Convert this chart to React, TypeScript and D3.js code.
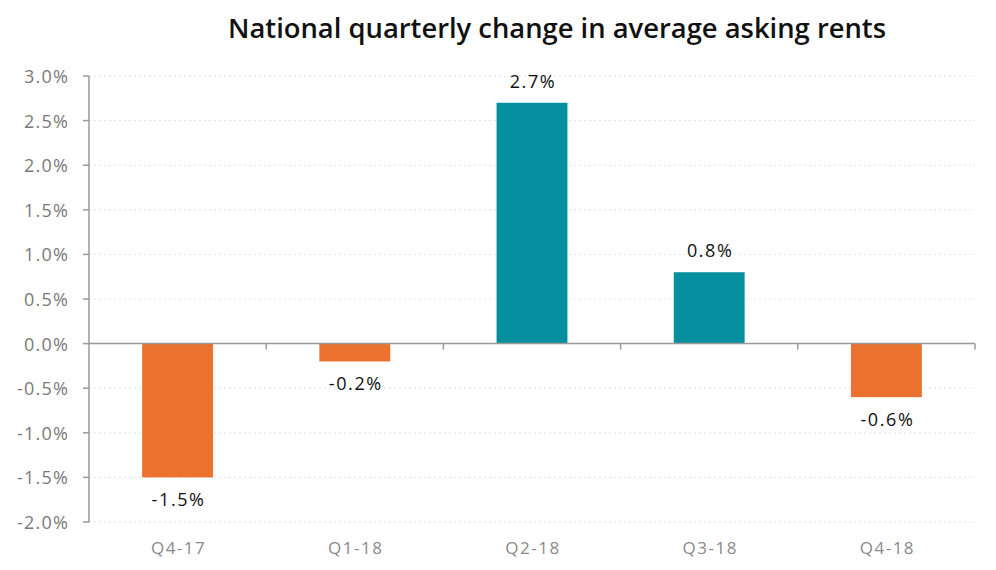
import * as d3 from "d3";

const quarters = ["Q4-17", "Q1-18", "Q2-18", "Q3-18", "Q4-18"];
const changes = [-1.5, -0.2, 2.7, 0.8, -0.6];
const yTickValues = [-2.0, -1.5, -1.0, -0.5, 0.0, 0.5, 1.0, 1.5, 2.0, 2.5, 3.0];

const width = 996;
const height = 570;
const margin = { top: 76, right: 21, bottom: 48, left: 89 };

const positiveColor = "#068F9F";
const negativeColor = "#EA712E";
const font = "'Open Sans', Lato, sans-serif";

export default function App() {
  const xScale = d3.scaleBand<string>()
    .domain(quarters)
    .range([margin.left, width - margin.right])
    .padding(0);

  const yScale = d3.scaleLinear()
    .domain([-2, 3])
    .range([height - margin.bottom, margin.top]);

  const barW = xScale.bandwidth() * 0.4;
  const zeroY = yScale(0);
  const fmt = (v: number) => v.toFixed(1) + "%";

  return (
    <svg
      width={width}
      height={height}
      style={{ position: "absolute", left: 0, top: 0, background: "#fff" }}
      fontFamily={font}
    >
      {/* Title */}
      <text
        x={228}
        y={38}
        fontSize="27"
        fontWeight="600"
        fill="#111"
        textLength={658}
        lengthAdjust="spacingAndGlyphs"
      >
        National quarterly change in average asking rents
      </text>

      {/* Grid */}
      {yTickValues.map(t => (
        <line
          key={"g" + t}
          x1={margin.left}
          x2={width - margin.right}
          y1={yScale(t)}
          y2={yScale(t)}
          stroke="#e2e2e2"
          strokeDasharray="2,3"
        />
      ))}

      {/* Bars */}
      {quarters.map((q, i) => {
        const v = changes[i];
        const cx = (xScale(q) as number) + xScale.bandwidth() / 2;
        const y0 = Math.min(yScale(v), zeroY);
        const h = Math.abs(yScale(v) - zeroY);
        return (
          <g key={q}>
            <rect
              x={cx - barW / 2}
              y={y0}
              width={barW}
              height={h}
              fill={v >= 0 ? positiveColor : negativeColor}
            />
            <text
              x={cx + 1}
              y={v >= 0 ? yScale(v) - 15 : yScale(v) + 29}
              textAnchor="middle"
              fontSize="18"
              letterSpacing="1.6"
              fill="#111"
            >
              {fmt(v)}
            </text>
            <text
              x={cx + 1}
              y={height - margin.bottom + 32}
              textAnchor="middle"
              fontSize="17"
              letterSpacing="1.5"
              fill="#8a8a8a"
            >
              {q}
            </text>
          </g>
        );
      })}

      {/* Y axis */}
      <line
        x1={margin.left}
        x2={margin.left}
        y1={yScale(3)}
        y2={yScale(-2)}
        stroke="#9a9a9a"
        strokeWidth={1.5}
      />
      {yTickValues.map(t => (
        <g key={"y" + t}>
          <line
            x1={margin.left - 6}
            x2={margin.left}
            y1={yScale(t)}
            y2={yScale(t)}
            stroke="#9a9a9a"
            strokeWidth={1.5}
          />
          <text
            x={margin.left - 20}
            y={yScale(t)}
            textAnchor="end"
            dominantBaseline="central"
            fontSize="18"
            letterSpacing="1.2"
            fill="#7a7a7a"
          >
            {fmt(t)}
          </text>
        </g>
      ))}

      {/* Zero axis */}
      <line
        x1={margin.left}
        x2={width - margin.right}
        y1={zeroY}
        y2={zeroY}
        stroke="#9a9a9a"
        strokeWidth={1.5}
      />
      {quarters.map(q => {
        const xr = (xScale(q) as number) + xScale.bandwidth();
        return (
          <line
            key={"t" + q}
            x1={xr}
            x2={xr}
            y1={zeroY}
            y2={zeroY + 6}
            stroke="#9a9a9a"
            strokeWidth={1.5}
          />
        );
      })}
    </svg>
  );
}
